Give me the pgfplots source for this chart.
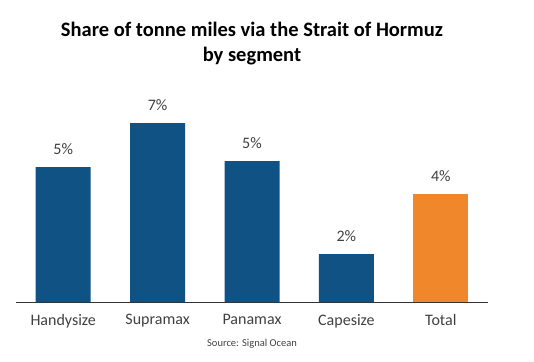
\documentclass[border=0pt]{standalone}
\usepackage{pgfplots}
\pgfplotsset{compat=1.18}
\usepackage{fontspec}
\setmainfont{Carlito}
\definecolor{barblue}{HTML}{0F5283}
\definecolor{barorange}{HTML}{F0872A}
\definecolor{txtgray}{HTML}{404040}
\begin{document}
\begin{tikzpicture}
\useasboundingbox (0pt,0pt) rectangle (534pt,361pt);
\begin{axis}[
  at={(16pt,59pt)}, anchor=south west,
  scale only axis, width=472pt, height=212pt,
  xmin=-0.5, xmax=4.5, ymin=0, ymax=8,
  axis x line*=bottom, axis y line=none,
  x axis line style={line width=1pt, color=black!80, -},
  xtick={0,1,2,3,4},
  xticklabels={Handysize,Supramax,Panamax,Capesize,Total},
  xticklabel style={font=\fontsize{16}{18}\selectfont, text=txtgray, yshift=-9pt},
  major tick length=0pt,
  ybar, bar width=55pt,
  nodes near coords, point meta=explicit symbolic,
  every node near coord/.append style={font=\fontsize{16}{18}\selectfont, text=txtgray, yshift=9pt},
]
\addplot[fill=barblue, draw=none, bar shift=0pt] coordinates {(0,5.09)[5\%] (1,6.75)[7\%] (2,5.32)[5\%] (3,1.81)[2\%]};
\addplot[fill=barorange, draw=none, bar shift=0pt] coordinates {(4,4.08)[4\%]};
\end{axis}
\node[font=\fontsize{20.5}{25}\selectfont\bfseries, align=center, anchor=north, text=black] at (252pt,342pt) {Share of tonne miles via the Strait of Hormuz\\by segment};
\node[font=\fontsize{10.5}{12}\selectfont, text=txtgray, anchor=base] at (252pt,15pt) {Source: Signal Ocean};
\end{tikzpicture}
\end{document}
